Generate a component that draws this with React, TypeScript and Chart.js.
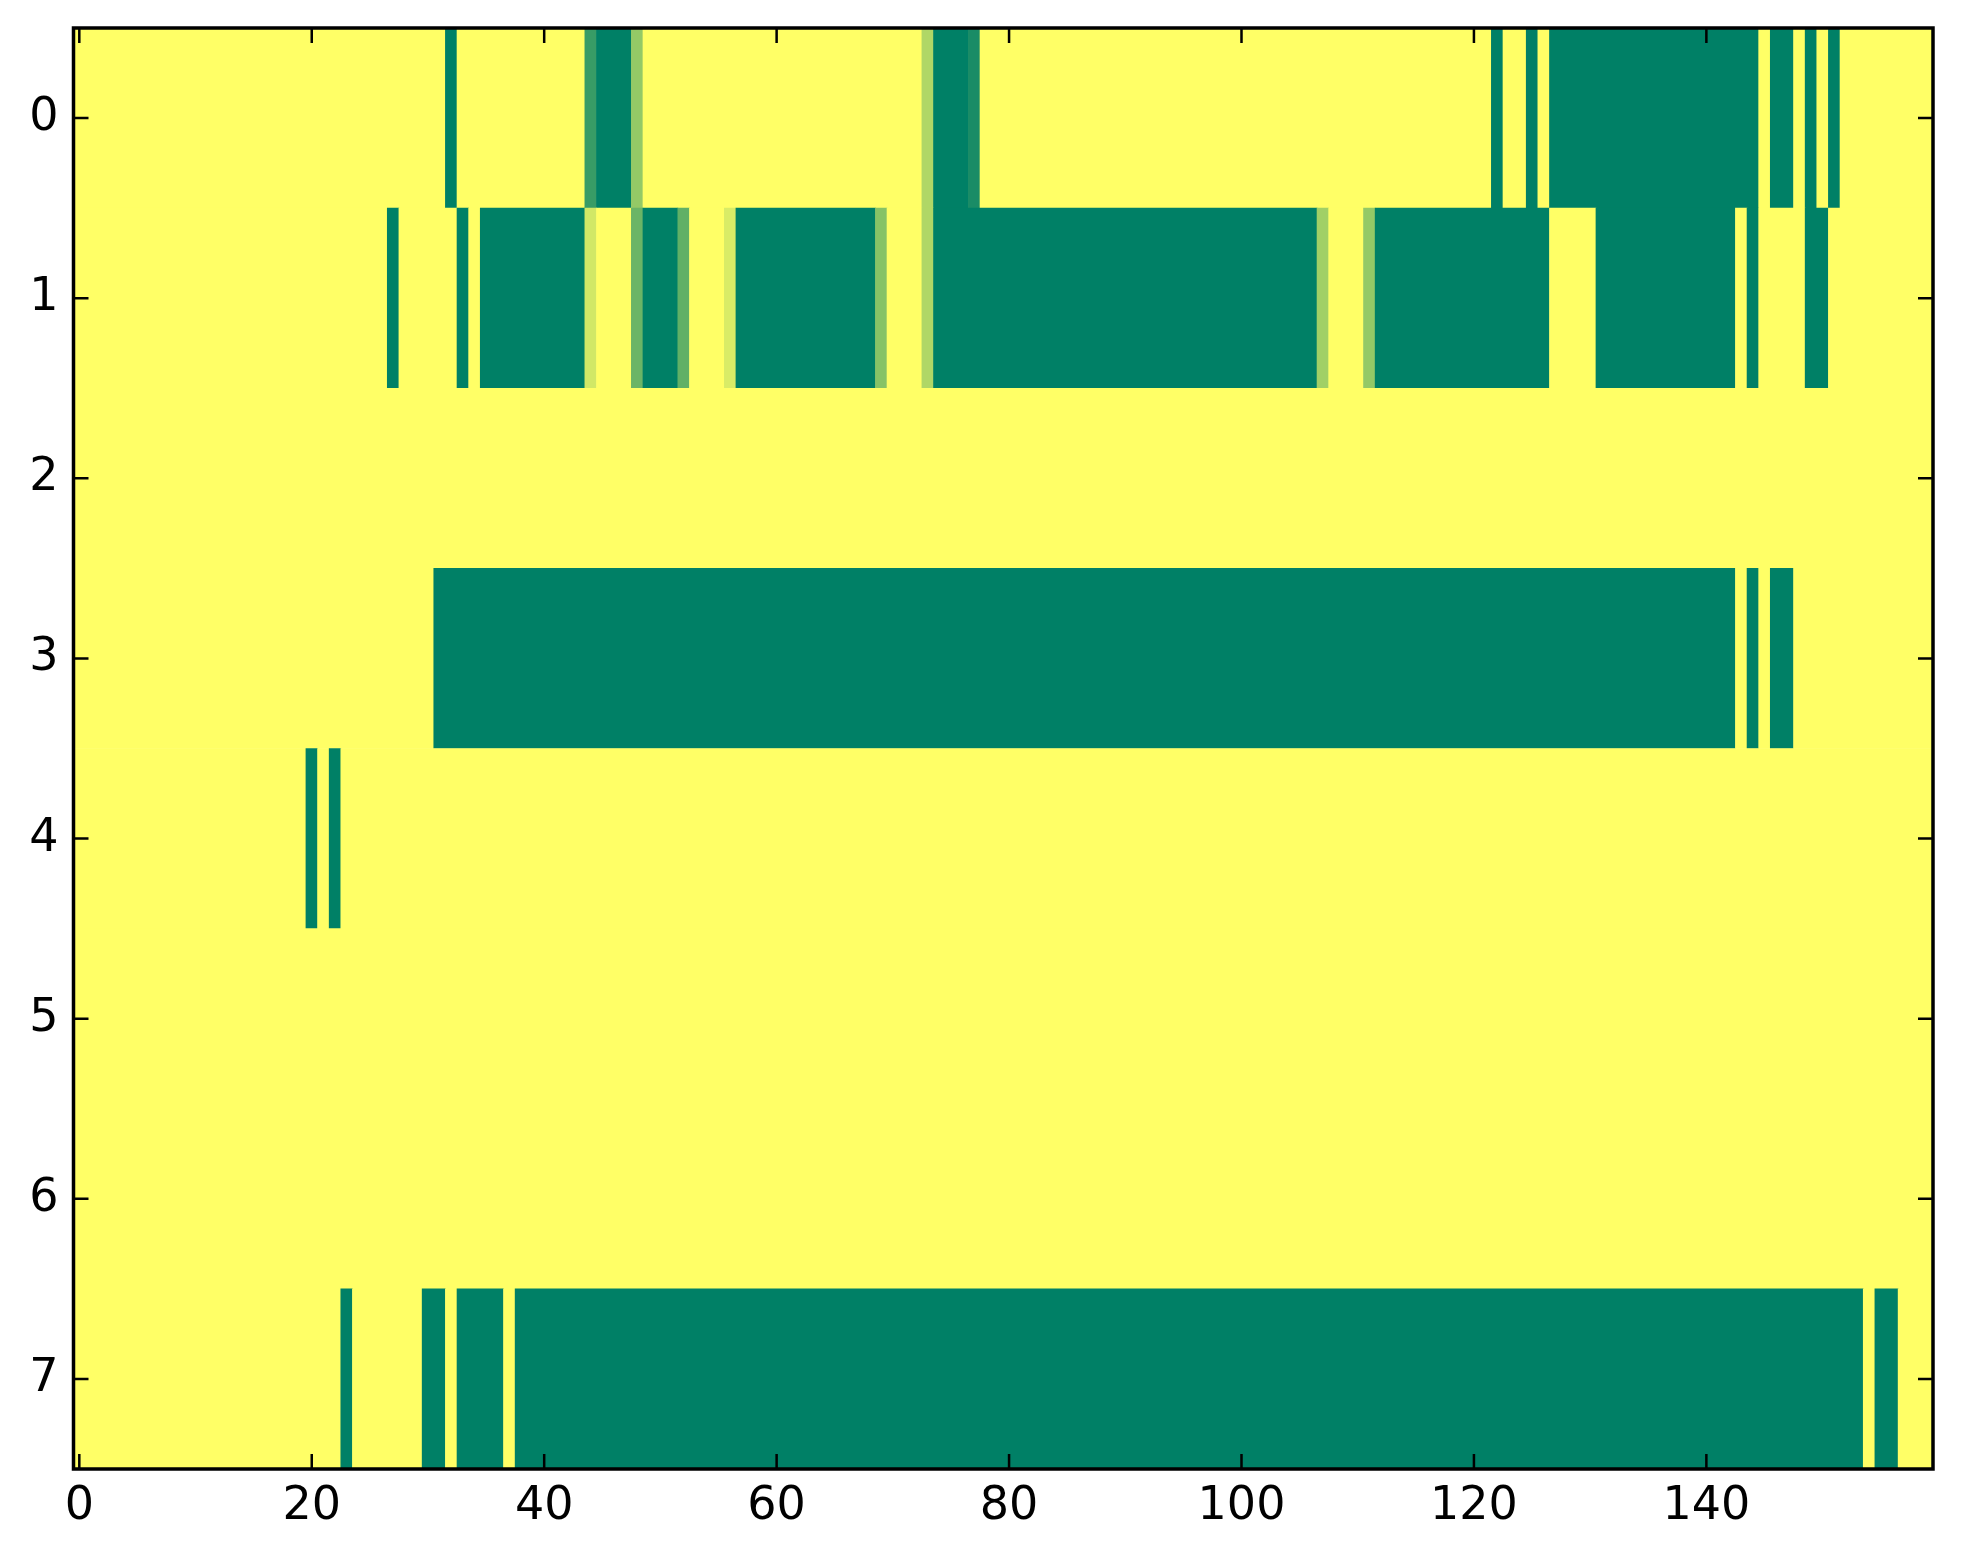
import React, { useEffect, useRef } from "react";
import { Chart, registerables } from "chart.js";

Chart.register(...registerables);

// ---- data ----
const nCols = 160;
const rowLabels = ["0", "1", "2", "3", "4", "5", "6", "7"];
const xTicks = [0, 20, 40, 60, 80, 100, 120, 140];

// runs of non-background cells: [firstCol, lastCol, value]; other cells are 1
const row0Runs: [number, number, number][] = [
  [32, 32, 0], [44, 44, 0.22], [45, 47, 0], [48, 48, 0.58],
  [73, 73, 0.69], [74, 76, 0], [77, 77, 0.1],
  [122, 122, 0], [125, 125, 0], [127, 144, 0], [146, 147, 0], [149, 149, 0], [151, 151, 0],
];
const row1Runs: [number, number, number][] = [
  [27, 27, 0], [33, 33, 0], [35, 43, 0], [44, 44, 0.82], [48, 48, 0.42], [49, 51, 0],
  [52, 52, 0.38], [56, 56, 0.85], [57, 68, 0], [69, 69, 0.53], [73, 73, 0.69],
  [74, 106, 0], [107, 107, 0.63], [111, 111, 0.58], [112, 126, 0],
  [131, 142, 0], [144, 144, 0], [149, 150, 0],
];
const row2Runs: [number, number, number][] = [];
const row3Runs: [number, number, number][] = [[31, 142, 0], [144, 144, 0], [146, 147, 0]];
const row4Runs: [number, number, number][] = [[20, 20, 0], [22, 22, 0]];
const row5Runs: [number, number, number][] = [];
const row6Runs: [number, number, number][] = [];
const row7Runs: [number, number, number][] = [
  [23, 23, 0], [30, 31, 0], [33, 36, 0], [38, 153, 0], [155, 156, 0],
];
const allRuns = [row0Runs, row1Runs, row2Runs, row3Runs, row4Runs, row5Runs, row6Runs, row7Runs];

// matplotlib "summer" colormap
function summer(v: number): string {
  const r = Math.round(255 * v);
  const g = Math.round(255 * (0.5 + 0.5 * v));
  return `rgb(${r},${g},102)`;
}

function buildBars() {
  const bars: { x: [number, number]; y: string; v: number }[] = [];
  allRuns.forEach((runs, r) => {
    const cells = new Array(nCols).fill(1);
    runs.forEach(([s, e, v]) => {
      for (let c = s; c <= e; c++) cells[c] = v;
    });
    let start = 0;
    for (let c = 1; c <= nCols; c++) {
      if (c === nCols || cells[c] !== cells[start]) {
        bars.push({ x: [start - 0.5, c - 0.5], y: rowLabels[r], v: cells[start] });
        start = c;
      }
    }
  });
  return bars;
}

const framePlugin = {
  id: "frame",
  afterDraw(chart: any) {
    const { ctx, chartArea: a, scales } = chart;
    const L = 15;
    ctx.save();
    ctx.strokeStyle = "#000";
    ctx.lineWidth = 2.5;
    ctx.beginPath();
    scales.x.ticks.forEach((t: any) => {
      const px = scales.x.getPixelForValue(t.value);
      ctx.moveTo(px, a.bottom);
      ctx.lineTo(px, a.bottom - L);
      ctx.moveTo(px, a.top);
      ctx.lineTo(px, a.top + L);
    });
    scales.y.ticks.forEach((_t: any, i: number) => {
      const py = scales.y.getPixelForTick(i);
      ctx.moveTo(a.left, py);
      ctx.lineTo(a.left + L, py);
      ctx.moveTo(a.right, py);
      ctx.lineTo(a.right - L, py);
    });
    ctx.stroke();
    ctx.lineWidth = 3.5;
    ctx.strokeRect(a.left, a.top, a.right - a.left, a.bottom - a.top);
    ctx.restore();
  },
};

export default function App() {
  const ref = useRef<HTMLCanvasElement>(null);
  useEffect(() => {
    document.body.style.margin = "0";
    const bars = buildBars();
    const font = { family: "'DejaVu Sans', sans-serif", size: 46 };
    const chart = new Chart(ref.current!, {
      type: "bar",
      data: {
        labels: rowLabels,
        datasets: [
          {
            data: bars as any,
            backgroundColor: bars.map((b) => summer(b.v)),
            borderWidth: 0,
            categoryPercentage: 1,
            barPercentage: 1,
          },
        ],
      },
      options: {
        indexAxis: "y",
        responsive: false,
        animation: false,
        layout: { padding: { top: 28, right: 30, left: 0, bottom: 0 } },
        plugins: { legend: { display: false }, tooltip: { enabled: false } },
        scales: {
          x: {
            type: "linear",
            min: -0.5,
            max: nCols - 0.5,
            grid: { display: false, drawTicks: false, tickLength: 0 },
            border: { display: false },
            afterBuildTicks: (axis: any) => {
              axis.ticks = xTicks.map((v) => ({ value: v }));
            },
            afterFit: (s: any) => {
              s.height = 95;
              s.paddingLeft = 0;
              s.paddingRight = 0;
            },
            ticks: {
              color: "#000",
              font,
              padding: 10,
              maxRotation: 0,
              autoSkip: false,
              callback: (v: any) => String(v),
            },
          },
          y: {
            type: "category",
            offset: true,
            grid: { display: false, drawTicks: false, tickLength: 0 },
            border: { display: false },
            afterFit: (s: any) => {
              s.width = 73.5;
              s.paddingTop = 0;
              s.paddingBottom = 0;
            },
            ticks: { color: "#000", font, padding: 15 },
          },
        },
      },
      plugins: [framePlugin],
    });
    return () => chart.destroy();
  }, []);
  return (
    <div style={{ width: 1963, height: 1564, background: "#fff" }}>
      <canvas ref={ref} width={1963} height={1564} style={{ width: 1963, height: 1564, display: "block" }} />
    </div>
  );
}
